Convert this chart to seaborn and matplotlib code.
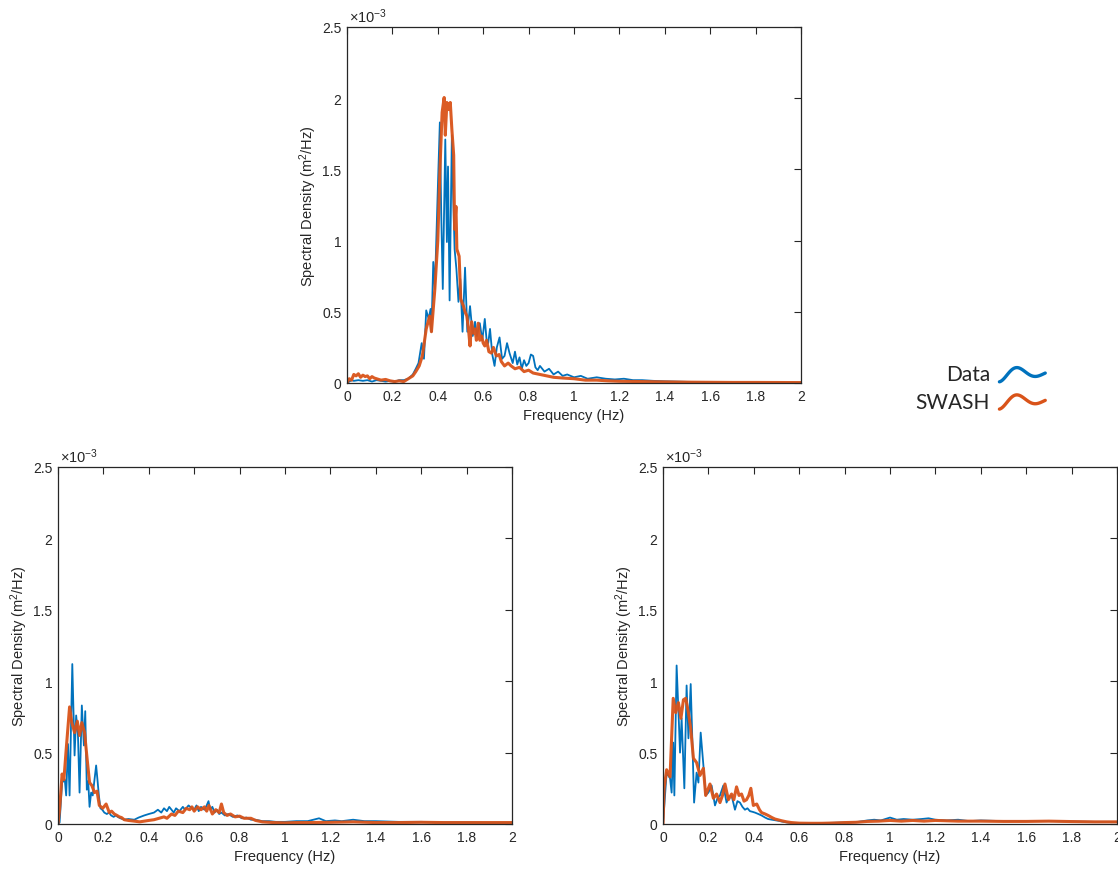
import numpy as np
import pandas as pd
import matplotlib
matplotlib.use("Agg")
import matplotlib.pyplot as plt
import seaborn as sns
from matplotlib.legend_handler import HandlerBase
from matplotlib.lines import Line2D
from matplotlib.ticker import FuncFormatter

# ---------------- data (spectral density in units of 1e-3 m^2/Hz) ----------------
top_data_f = [0.0, 0.01, 0.02, 0.03, 0.05, 0.07, 0.09, 0.11, 0.13, 0.15, 0.17, 0.19, 0.21, 0.23, 0.25, 0.27, 0.29,
              0.303, 0.315, 0.329, 0.339, 0.349, 0.36, 0.368, 0.372, 0.38, 0.387, 0.40, 0.409, 0.415, 0.422, 0.433,
              0.44, 0.445, 0.452, 0.462, 0.468, 0.474, 0.482, 0.491, 0.499, 0.509, 0.52, 0.53, 0.542, 0.554, 0.564,
              0.572, 0.585, 0.596, 0.607, 0.615, 0.622, 0.63, 0.64, 0.65, 0.66, 0.672, 0.683, 0.694, 0.705, 0.716,
              0.73, 0.74, 0.75, 0.76, 0.77, 0.78, 0.79, 0.80, 0.81, 0.82, 0.83, 0.84, 0.85, 0.87, 0.89, 0.91, 0.93,
              0.95, 0.97, 1.0, 1.03, 1.06, 1.1, 1.14, 1.18, 1.22, 1.26, 1.3, 1.35, 1.4, 1.45, 1.5, 1.6, 1.7, 1.8,
              1.9, 2.0]
top_data_v = [0.0, 0.01, 0.02, 0.015, 0.02, 0.015, 0.02, 0.01, 0.02, 0.015, 0.01, 0.015, 0.01, 0.02, 0.02, 0.03, 0.06,
              0.1, 0.14, 0.28, 0.17, 0.51, 0.45, 0.52, 0.36, 0.85, 0.66, 1.36, 1.83, 1.2, 0.66, 1.71,
              0.99, 1.52, 0.58, 1.74, 1.3, 0.94, 0.8, 0.57, 0.73, 0.36, 0.81, 0.36, 0.54, 0.33, 0.43,
              0.33, 0.42, 0.3, 0.45, 0.3, 0.28, 0.38, 0.2, 0.12, 0.25, 0.32, 0.17, 0.19, 0.28, 0.21,
              0.14, 0.22, 0.13, 0.18, 0.1, 0.16, 0.12, 0.14, 0.2, 0.19, 0.11, 0.09, 0.12, 0.08, 0.1, 0.06, 0.08,
              0.05, 0.06, 0.04, 0.05, 0.03, 0.04, 0.03, 0.025, 0.03, 0.02, 0.02, 0.015, 0.012, 0.01, 0.008, 0.006,
              0.005, 0.004, 0.004, 0.003]

top_swash_f = [0.0, 0.01, 0.02, 0.03, 0.04, 0.05, 0.06, 0.07, 0.08, 0.09, 0.10, 0.11, 0.12, 0.13, 0.15, 0.17, 0.19,
               0.21, 0.23, 0.25, 0.27, 0.29, 0.303, 0.318, 0.332, 0.349, 0.364, 0.372, 0.387, 0.40, 0.409, 0.419,
               0.428, 0.433, 0.44, 0.448, 0.455, 0.462, 0.47, 0.474, 0.48, 0.484, 0.494, 0.501, 0.513, 0.52, 0.528,
               0.535, 0.542, 0.549, 0.557, 0.564, 0.57, 0.578, 0.585, 0.593, 0.6, 0.607, 0.615, 0.625, 0.636, 0.645,
               0.658, 0.67, 0.68, 0.694, 0.71, 0.723, 0.74, 0.76, 0.78, 0.8, 0.82, 0.85, 0.88, 0.91, 0.95, 1.0,
               1.05, 1.1, 1.15, 1.2, 1.3, 1.4, 1.5, 1.6, 1.7, 1.8, 2.0]
top_swash_v = [0.0, 0.03, 0.02, 0.06, 0.05, 0.065, 0.04, 0.055, 0.045, 0.05, 0.03, 0.045, 0.035, 0.03, 0.02, 0.025,
               0.015, 0.01, 0.015, 0.01, 0.03, 0.05, 0.08, 0.12, 0.19, 0.38, 0.47, 0.36, 0.66, 1.0, 1.48, 1.9,
               2.005, 1.74, 1.97, 1.92, 1.97, 1.78, 1.6, 1.08, 1.24, 0.94, 0.89, 0.59, 0.54, 0.5, 0.47,
               0.38, 0.26, 0.43, 0.35, 0.38, 0.3, 0.42, 0.3, 0.33, 0.28, 0.26, 0.3, 0.22, 0.21, 0.25,
               0.19, 0.2, 0.15, 0.12, 0.14, 0.12, 0.1, 0.11, 0.08, 0.09, 0.07, 0.06, 0.05, 0.04, 0.035, 0.03,
               0.02, 0.02, 0.015, 0.012, 0.01, 0.008, 0.006, 0.005, 0.004, 0.004, 0.003]

bl_data_f = [0.0, 0.007, 0.018, 0.03, 0.036, 0.044, 0.051, 0.063, 0.073, 0.08, 0.088, 0.095, 0.105, 0.114, 0.12,
             0.127, 0.133, 0.139, 0.146, 0.153, 0.16, 0.168, 0.175, 0.18, 0.187, 0.195, 0.204, 0.215, 0.225, 0.234,
             0.245, 0.255, 0.263, 0.275, 0.292, 0.31, 0.336, 0.355, 0.38, 0.40, 0.423, 0.44, 0.455, 0.467, 0.48,
             0.49, 0.5, 0.51, 0.52, 0.535, 0.55, 0.56, 0.575, 0.59, 0.6, 0.61, 0.62, 0.63, 0.645, 0.655, 0.663,
             0.67, 0.68, 0.69, 0.70, 0.71, 0.72, 0.735, 0.75, 0.77, 0.79, 0.81, 0.83, 0.85, 0.87, 0.9, 0.93, 0.96,
             1.0, 1.05, 1.1, 1.15, 1.18, 1.22, 1.25, 1.3, 1.35, 1.4, 1.5, 1.6, 1.7, 1.8, 1.9, 2.0]
bl_data_v = [0.0, 0.01, 0.29, 0.31, 0.2, 0.56, 0.2, 1.12, 0.48, 0.76, 0.62, 0.22, 0.83, 0.55, 0.79,
             0.24, 0.3, 0.12, 0.22, 0.2, 0.3, 0.41, 0.29, 0.2, 0.11, 0.1, 0.08, 0.07, 0.08, 0.06,
             0.05, 0.06, 0.05, 0.04, 0.03, 0.035, 0.03, 0.045, 0.06, 0.07, 0.08, 0.1, 0.08, 0.11, 0.09,
             0.12, 0.1, 0.08, 0.11, 0.09, 0.12, 0.1, 0.13, 0.11, 0.1, 0.13, 0.09, 0.12, 0.1, 0.13, 0.16,
             0.1, 0.12, 0.08, 0.1, 0.07, 0.08, 0.06, 0.07, 0.05, 0.06, 0.04, 0.045, 0.03, 0.03, 0.02, 0.02, 0.015,
             0.015, 0.02, 0.02, 0.04, 0.02, 0.025, 0.02, 0.03, 0.02, 0.02, 0.015, 0.015, 0.012, 0.012, 0.01, 0.01]

bl_swash_f = [0.0, 0.007, 0.018, 0.026, 0.036, 0.045, 0.051, 0.061, 0.073, 0.085, 0.095, 0.105, 0.117, 0.128, 0.139,
              0.149, 0.161, 0.172, 0.182, 0.197, 0.212, 0.226, 0.236, 0.248, 0.26, 0.27, 0.28, 0.292, 0.31, 0.336,
              0.36, 0.38, 0.40, 0.423, 0.445, 0.467, 0.48, 0.5, 0.515, 0.53, 0.55, 0.565, 0.58, 0.59, 0.6, 0.615,
              0.63, 0.645, 0.655, 0.665, 0.68, 0.695, 0.71, 0.72, 0.73, 0.745, 0.76, 0.78, 0.8, 0.82, 0.85, 0.87,
              0.9, 0.95, 1.0, 1.05, 1.1, 1.2, 1.3, 1.4, 1.5, 1.6, 1.7, 1.8, 1.9, 2.0]
bl_swash_v = [0.0, 0.1, 0.35, 0.31, 0.52, 0.7, 0.82, 0.71, 0.64, 0.72, 0.62, 0.71, 0.64, 0.46, 0.29,
              0.27, 0.22, 0.23, 0.13, 0.11, 0.14, 0.08, 0.09, 0.07, 0.06, 0.05, 0.045, 0.03, 0.025, 0.02,
              0.015, 0.02, 0.025, 0.03, 0.04, 0.05, 0.04, 0.07, 0.06, 0.09, 0.08, 0.11, 0.1, 0.12, 0.09, 0.12,
              0.1, 0.12, 0.09, 0.13, 0.07, 0.1, 0.08, 0.14, 0.08, 0.06, 0.07, 0.05, 0.055, 0.04, 0.04, 0.025,
              0.015, 0.01, 0.008, 0.01, 0.01, 0.012, 0.015, 0.01, 0.01, 0.012, 0.01, 0.01, 0.01, 0.01]

br_data_f = [0.0, 0.016, 0.031, 0.038, 0.045, 0.05, 0.06, 0.07, 0.075, 0.082, 0.094, 0.104, 0.112, 0.122, 0.129,
             0.137, 0.148, 0.156, 0.166, 0.178, 0.188, 0.2, 0.214, 0.229, 0.24, 0.251, 0.266, 0.28, 0.29, 0.302,
             0.317, 0.328, 0.339, 0.35, 0.361, 0.372, 0.383, 0.395, 0.405, 0.42, 0.434, 0.45, 0.463, 0.48, 0.507,
             0.53, 0.551, 0.58, 0.62, 0.66, 0.7, 0.74, 0.78, 0.82, 0.86, 0.9, 0.93, 0.96, 1.0, 1.03, 1.06, 1.1,
             1.14, 1.17, 1.2, 1.25, 1.3, 1.35, 1.4, 1.5, 1.6, 1.7, 1.8, 1.9, 2.0]
br_data_v = [0.0, 0.36, 0.32, 0.22, 0.57, 0.2, 1.11, 0.71, 0.5, 0.74, 0.25, 0.97, 0.6, 0.98, 0.6,
             0.15, 0.36, 0.29, 0.64, 0.41, 0.2, 0.22, 0.27, 0.13, 0.18, 0.2, 0.27, 0.15, 0.19, 0.2,
             0.1, 0.16, 0.15, 0.12, 0.1, 0.11, 0.09, 0.085, 0.08, 0.07, 0.06, 0.045, 0.035, 0.03, 0.023,
             0.015, 0.01, 0.006, 0.005, 0.005, 0.006, 0.008, 0.01, 0.012, 0.015, 0.025, 0.03, 0.025, 0.045, 0.03,
             0.035, 0.03, 0.035, 0.04, 0.03, 0.025, 0.03, 0.02, 0.025, 0.02, 0.02, 0.02, 0.018, 0.015, 0.015]

br_swash_f = [0.0, 0.005, 0.016, 0.031, 0.045, 0.056, 0.068, 0.079, 0.09, 0.1, 0.112, 0.122, 0.134, 0.148, 0.163,
              0.178, 0.188, 0.207, 0.222, 0.236, 0.251, 0.262, 0.273, 0.288, 0.302, 0.312, 0.324, 0.335, 0.346,
              0.357, 0.368, 0.378, 0.387, 0.398, 0.413, 0.425, 0.434, 0.45, 0.463, 0.48, 0.493, 0.51, 0.522, 0.545,
              0.566, 0.6, 0.65, 0.7, 0.75, 0.8, 0.85, 0.9, 0.95, 1.0, 1.05, 1.1, 1.15, 1.2, 1.3, 1.4, 1.5, 1.6,
              1.7, 1.8, 1.9, 2.0]
br_swash_v = [0.0, 0.25, 0.38, 0.33, 0.88, 0.78, 0.85, 0.74, 0.87, 0.88, 0.78, 0.67, 0.46, 0.43, 0.34,
              0.39, 0.2, 0.28, 0.18, 0.21, 0.15, 0.2, 0.28, 0.17, 0.21, 0.17, 0.26, 0.2, 0.21,
              0.16, 0.17, 0.2, 0.25, 0.13, 0.14, 0.1, 0.08, 0.07, 0.06, 0.045, 0.035, 0.028, 0.023, 0.015,
              0.01, 0.006, 0.005, 0.005, 0.007, 0.01, 0.012, 0.018, 0.02, 0.025, 0.02, 0.025, 0.02, 0.025, 0.02,
              0.02, 0.018, 0.018, 0.02, 0.017, 0.015, 0.015]

series_names = ["Data", "SWASH"]
series_colors = {"Data": "#0072BD", "SWASH": "#D95319"}
series_widths = {"Data": 1.3, "SWASH": 2.2}
x_ticks = [0, 0.2, 0.4, 0.6, 0.8, 1.0, 1.2, 1.4, 1.6, 1.8, 2.0]
y_ticks_e3 = [0, 0.5, 1.0, 1.5, 2.0, 2.5]
x_label = "Frequency (Hz)"
y_label = "Spectral Density (m$^2$/Hz)"
scale = 1e-3

panels = [
    ((top_data_f, top_data_v), (top_swash_f, top_swash_v)),
    ((bl_data_f, bl_data_v), (bl_swash_f, bl_swash_v)),
    ((br_data_f, br_data_v), (br_swash_f, br_swash_v)),
]

# ---------------- styling ----------------
sns.set_style("white")
plt.rcParams["font.family"] = ["Liberation Sans", "DejaVu Sans"]
plt.rcParams["mathtext.fontset"] = "custom"
plt.rcParams["mathtext.rm"] = "Liberation Sans"
plt.rcParams["mathtext.it"] = "Liberation Sans:italic"

W, H = 1118, 870
fig = plt.figure(figsize=(W / 100, H / 100), dpi=100)

# axes rectangles in pixels: left, top, right, bottom
rects_px = [(347, 28, 801, 384), (58, 468, 512, 825), (663, 468, 1117, 825)]

tick_color = "#262626"
for (l, t, r, b), (d, s) in zip(rects_px, panels):
    ax = fig.add_axes([l / W, 1 - b / H, (r - l) / W, (b - t) / H])
    for name, (f, v) in zip(series_names, (d, s)):
        df = pd.DataFrame({"Frequency": f, "S": np.asarray(v) * scale})
        sns.lineplot(data=df, x="Frequency", y="S", ax=ax, color=series_colors[name],
                     linewidth=series_widths[name], estimator=None, legend=False,
                     alpha=0.95 if name == "SWASH" else 1.0)
    ax.set_xlim(0, 2)
    ax.set_ylim(0, 2.5e-3)
    ax.set_xticks(x_ticks)
    ax.set_yticks([y * scale for y in y_ticks_e3])
    ax.xaxis.set_major_formatter(FuncFormatter(lambda x, p: f"{x:g}"))
    ax.yaxis.set_major_formatter(FuncFormatter(lambda y, p: f"{y / scale:g}"))
    ax.tick_params(direction="in", length=5, width=0.8, top=True, right=True,
                   labelsize=10, colors=tick_color, pad=4)
    for sp in ax.spines.values():
        sp.set_visible(True)
        sp.set_color("#262626")
        sp.set_linewidth(0.9)
    ax.set_xlabel(x_label, fontsize=10.5, color=tick_color, labelpad=4)
    ax.set_ylabel(y_label, fontsize=10.5, color=tick_color, labelpad=2)
    ax.text(0.005, 1.006, r"$\times$10$^{-3}$", transform=ax.transAxes, ha="left", va="bottom",
            fontsize=10.5, color=tick_color)


# ---------------- legend with wavy icons ----------------
class WaveHandler(HandlerBase):
    def create_artists(self, legend, orig_handle, xdescent, ydescent, width, height, fontsize, trans):
        t = np.linspace(0, 1, 60)
        xs = -xdescent + t * width
        ys = -ydescent + height / 2 + height * 0.6 * np.sin(2 * np.pi * (1.25 * t - 0.25)) * np.exp(-1.2 * t)
        line = Line2D(xs, ys, color=orig_handle.get_color(), linewidth=2.4,
                      solid_capstyle="round", transform=trans)
        return [line]


handles = [Line2D([], [], color=series_colors[n]) for n in series_names]
fig.legend(handles, series_names, handler_map={Line2D: WaveHandler()},
           loc="center right", bbox_to_anchor=(1064 / W, 1 - 389 / H), frameon=False,
           markerfirst=False, handlelength=2.2, handletextpad=0.45, labelspacing=0.35,
           prop={"family": ["Lato", "DejaVu Sans"], "size": 15})

fig.savefig("out.png", dpi=100)
